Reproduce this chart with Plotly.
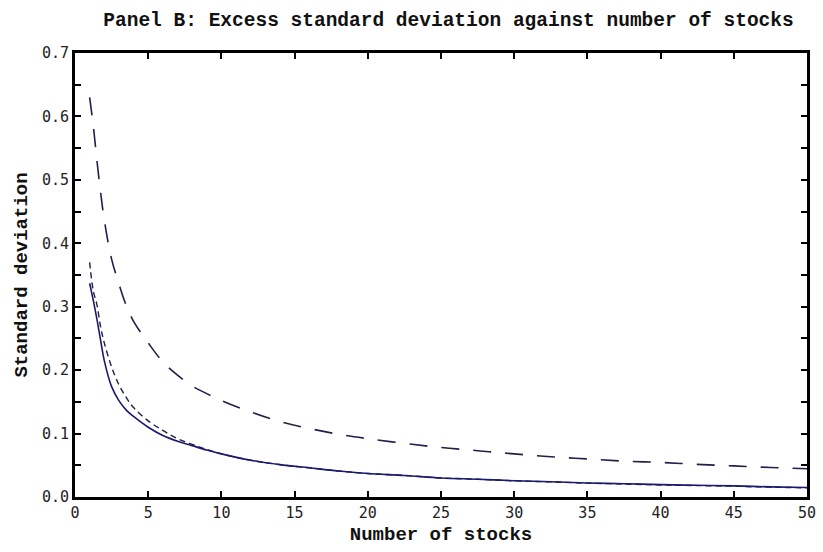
import plotly.graph_objects as go

n_stocks = [1, 1.25, 1.5, 1.75, 2, 2.5, 3, 3.5, 4, 5, 6, 7, 8, 9, 10, 12, 14, 16, 18, 20,
            22.5, 25, 27.5, 30, 32.5, 35, 37.5, 40, 42.5, 45, 47.5, 50]

upper_dashed = [0.63, 0.585, 0.53, 0.48, 0.437, 0.375, 0.336, 0.302, 0.277, 0.243, 0.213,
                0.192, 0.175, 0.163, 0.152, 0.134, 0.119, 0.108, 0.099, 0.092,
                0.0845, 0.078, 0.073, 0.068, 0.0635, 0.06, 0.0565, 0.0545, 0.0515,
                0.049, 0.0465, 0.0445]

solid_line = [0.337, 0.31, 0.28, 0.247, 0.215, 0.174, 0.152, 0.137, 0.127, 0.11, 0.097,
              0.088, 0.081, 0.074, 0.068, 0.058, 0.051, 0.046, 0.041, 0.037,
              0.034, 0.030, 0.028, 0.0257, 0.024, 0.022, 0.021, 0.0195, 0.0185,
              0.0175, 0.016, 0.015]

lower_dashed = [0.37, 0.325, 0.303, 0.268, 0.243, 0.205, 0.177, 0.157, 0.141, 0.12, 0.105,
                0.092, 0.083, 0.075, 0.068, 0.058, 0.051, 0.046, 0.041, 0.037,
                0.034, 0.030, 0.028, 0.0255, 0.0238, 0.0218, 0.0205, 0.019, 0.018,
                0.017, 0.0155, 0.0145]

x_ticks = [0, 5, 10, 15, 20, 25, 30, 35, 40, 45, 50]
y_ticks = [0.0, 0.1, 0.2, 0.3, 0.4, 0.5, 0.6, 0.7]
y_tick_labels = ["0.0", "0.1", "0.2", "0.3", "0.4", "0.5", "0.6", "0.7"]

title_text = "Panel B: Excess standard deviation against number of stocks"
x_title = "Number of stocks"
y_title = "Standard deviation"

navy = "#1a1a70"

fig = go.Figure()
fig.add_trace(go.Scatter(x=n_stocks, y=upper_dashed, mode="lines",
                         line=dict(color="#20204a", width=1.6, dash="18px,14px", shape="spline"),
                         showlegend=False))
fig.add_trace(go.Scatter(x=n_stocks, y=lower_dashed, mode="lines",
                         line=dict(color="#20204a", width=1.4, dash="6px,4px", shape="spline"),
                         showlegend=False))
fig.add_trace(go.Scatter(x=n_stocks, y=solid_line, mode="lines",
                         line=dict(color=navy, width=1.6, shape="spline"),
                         showlegend=False))

tick_font = dict(family="DejaVu Sans Mono", size=15, color="#222222")
label_font = dict(family="Liberation Mono", size=19, color="#111111")

fig.update_layout(
    width=823, height=552,
    margin=dict(l=75, r=7, t=53, b=55),
    paper_bgcolor="white", plot_bgcolor="white",
    title=dict(text="<b>" + title_text + "</b>", x=0.545, xanchor="center", y=0.965, yanchor="middle",
               font=dict(family="Liberation Mono", size=19.5, color="#111111")),
    xaxis=dict(range=[0, 50], tickvals=x_ticks, ticktext=[str(v) for v in x_ticks],
               ticks="inside", ticklen=6, tickwidth=1.5, tickcolor="black",
               showline=True, linecolor="black", linewidth=3, mirror="ticks",
               showgrid=False, zeroline=False, tickfont=tick_font,
               title=dict(text="<b>" + x_title + "</b>", font=label_font, standoff=6)),
    yaxis=dict(range=[0, 0.7], tickvals=y_ticks, ticktext=y_tick_labels,
               ticks="inside", ticklen=6, tickwidth=1.5, tickcolor="black",
               minor=dict(dtick=0.05, ticks="inside", ticklen=6, tickwidth=1.5, tickcolor="black"),
               showline=True, linecolor="black", linewidth=3, mirror="ticks",
               showgrid=False, zeroline=False, tickfont=tick_font,
               title=dict(text="<b>" + y_title + "</b>", font=label_font, standoff=10)),
)

fig.write_html("out.html")
